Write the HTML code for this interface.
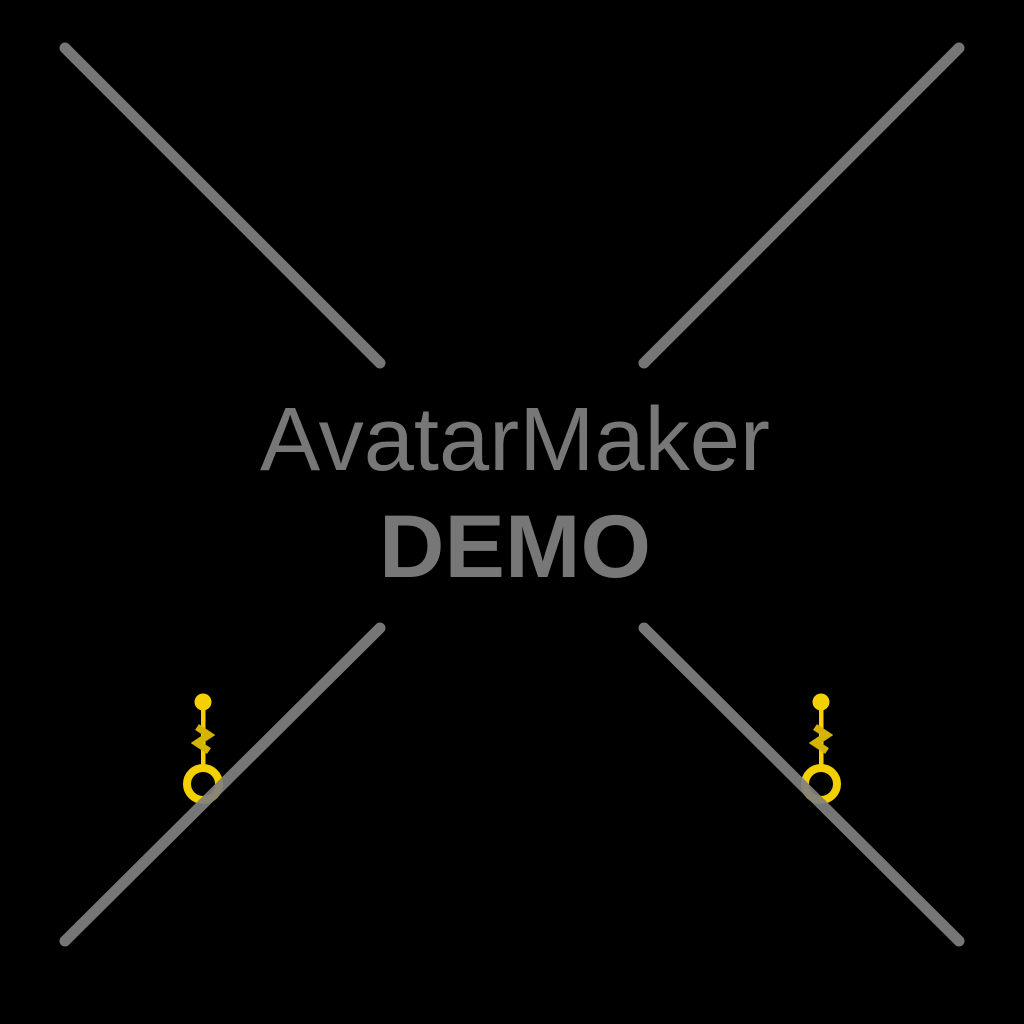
<!DOCTYPE html>
<html><head><style>html,body{margin:0;background:#000;width:1024px;height:1024px;overflow:hidden}</style></head>
<body>
<svg width="1024" height="1024" viewBox="0 0 1024 1024">
<rect width="1024" height="1024" fill="#000"/>
<g id="e">
<circle cx="203" cy="702" r="8.5" fill="#f5d000"/>
<rect x="201" y="702" width="4.5" height="66" fill="#f5d000"/>
<path d="M197 727 L209 735 L197 743 L209 751" stroke="#d4b400" stroke-width="7" fill="none"/>
<circle cx="203" cy="784" r="16" fill="none" stroke="#f5d000" stroke-width="8"/>
</g>
<use href="#e" transform="translate(618,0)"/>
<g stroke="#808080" stroke-width="11" stroke-linecap="round" opacity="0.92">
<line x1="65" y1="48" x2="380" y2="363"/>
<line x1="959" y1="48" x2="644" y2="363"/>
<line x1="65" y1="941" x2="380" y2="628"/>
<line x1="959" y1="941" x2="644" y2="628"/>
</g>
<text x="260" y="470" textLength="510" lengthAdjust="spacingAndGlyphs" font-family="Liberation Sans, sans-serif" font-size="90" fill="#777">AvatarMaker</text>
<text x="379" y="577" textLength="272" lengthAdjust="spacingAndGlyphs" font-family="Liberation Sans, sans-serif" font-weight="bold" font-size="89" fill="#777">DEMO</text>
</svg>
</body></html>
